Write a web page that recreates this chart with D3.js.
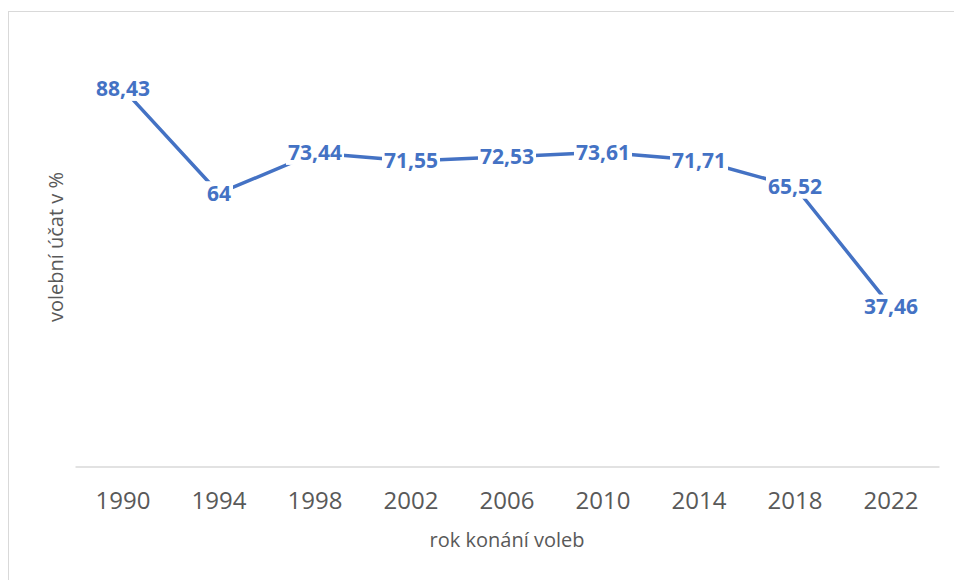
<!DOCTYPE html>
<meta charset="UTF-8">
<head>
  <script src="https://cdnjs.cloudflare.com/ajax/libs/d3/7.8.5/d3.min.js"></script>
</head>
<title>Volební účast</title>
<style>
  body { margin: 0; background: #fff; }
  .chart text { font-family: "Open Sans", sans-serif; }
</style>
<body>
  <div id="chart"></div>
</body>
<script>
// data
var years = ["1990", "1994", "1998", "2002", "2006", "2010", "2014", "2018", "2022"];
var turnout = [88.43, 64, 73.44, 71.55, 72.53, 73.61, 71.71, 65.52, 37.46];
var xTitle = "rok konání voleb";
var yTitle = "volební účat v %";

var width = 954;
var height = 580;
var plotLeft = 75, plotRight = 939, plotTop = 39.5, plotBottom = 466.5;
var blue = "#4472C4";
var grey = "#595959";

var svg = d3.select("#chart")
  .append("svg")
  .attr("class", "chart")
  .attr("width", width)
  .attr("height", height);

// chart frame
svg.append("rect")
  .attr("x", 8.5).attr("y", 11.5)
  .attr("width", 960).attr("height", 600)
  .attr("fill", "none")
  .attr("stroke", "#d9d9d9")
  .attr("stroke-width", 1);

var x = d3.scaleBand()
  .domain(years)
  .range([plotLeft, plotRight]);

var y = d3.scaleLinear()
  .domain([0, 100])
  .range([plotBottom, plotTop]);

var data = years.map(function(d, i) { return { year: d, value: turnout[i] }; });

// x axis
var xAxis = svg.append("g")
  .attr("transform", "translate(0," + plotBottom + ")")
  .call(d3.axisBottom(x).tickSize(0).tickPadding(26));
xAxis.select(".domain").attr("stroke", "#d9d9d9").attr("stroke-width", 1.3);
xAxis.selectAll("text")
  .attr("fill", grey)
  .style("font-size", "24px")
  .attr("dy", "0.69em");

// axis titles
svg.append("text")
  .attr("x", (plotLeft + plotRight) / 2)
  .attr("y", 540)
  .attr("dy", "0.35em")
  .attr("text-anchor", "middle")
  .attr("fill", grey)
  .style("font-size", "20px")
  .text(xTitle);

svg.append("text")
  .attr("transform", "translate(56," + 247 + ") rotate(-90)")
  .attr("dy", "0.35em")
  .attr("text-anchor", "middle")
  .attr("fill", grey)
  .style("font-size", "20px")
  .text(yTitle);

// line
var line = d3.line()
  .x(function(d) { return x(d.year) + x.bandwidth() / 2; })
  .y(function(d) { return y(d.value); });

svg.append("path")
  .datum(data)
  .attr("d", line)
  .attr("fill", "none")
  .attr("stroke", blue)
  .attr("stroke-width", 3.5)
  .attr("stroke-linejoin", "round");

// data labels, centred on the points
var labels = svg.selectAll(".lbl")
  .data(data)
  .enter()
  .append("g")
  .attr("class", "lbl")
  .attr("transform", function(d) {
    return "translate(" + (x(d.year) + x.bandwidth() / 2) + "," + y(d.value) + ")";
  });

labels.append("rect")
  .attr("fill", "#fff");

labels.append("text")
  .attr("text-anchor", "middle")
  .attr("dy", "0.35em")
  .attr("fill", blue)
  .style("font-size", "21px")
  .style("font-weight", "bold")
  .text(function(d) { return String(d.value).replace(".", ","); });

labels.each(function() {
  var g = d3.select(this);
  var w = g.select("text").node().getComputedTextLength();
  g.select("rect")
    .attr("x", -w / 2 - 2)
    .attr("y", -12)
    .attr("width", w + 4)
    .attr("height", 24);
});
</script>
